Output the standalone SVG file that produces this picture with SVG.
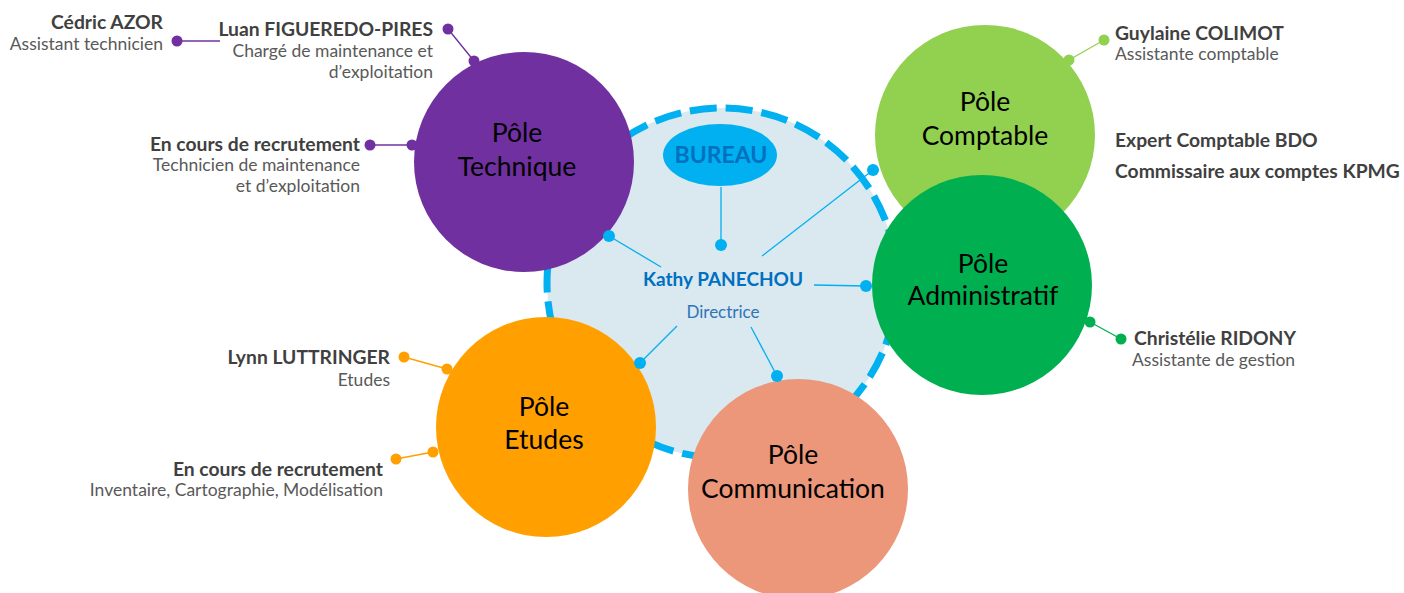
<svg xmlns="http://www.w3.org/2000/svg" width="1404" height="593" viewBox="0 0 1404 593">
<style>
.pole{font-family:Lato,"Open Sans","Liberation Sans",sans-serif;font-size:26.5px;fill:#000;text-anchor:middle}
.nm{font-family:Lato,"Liberation Sans",sans-serif;font-size:19.3px;font-weight:bold;fill:#404040}
.sub{font-family:Lato,"Liberation Sans",sans-serif;font-size:17.5px;fill:#595959}
.r{text-anchor:end}
.c{stroke:#00B0F0;stroke-width:1.3;fill:none}
.cd{fill:#00B0F0}
</style>
<rect width="1404" height="593" fill="#fff"/>
<g id="pole-comptable">
<circle cx="985" cy="135" r="110" fill="#92D050"/>
<text class="pole" x="985" y="111">Pôle</text>
<text class="pole" x="985" y="145">Comptable</text>
</g>
<g id="bureau-zone">
<circle cx="722" cy="283" r="175" fill="#DAE8F0" stroke="#00B0F0" stroke-width="7" stroke-dasharray="27 9"/>
</g>
<g id="pole-technique">
<circle cx="524" cy="162" r="110" fill="#7030A0"/>
<text class="pole" x="517" y="142">Pôle</text>
<text class="pole" x="517" y="176">Technique</text>
</g>
<g id="pole-etudes">
<circle cx="546" cy="427" r="110" fill="#FFA000"/>
<text class="pole" x="544" y="416">Pôle</text>
<text class="pole" x="544" y="449">Etudes</text>
</g>
<g id="pole-communication">
<circle cx="798" cy="489" r="110" fill="#EC967A"/>
<text class="pole" x="793" y="464">Pôle</text>
<text class="pole" x="793" y="498">Communication</text>
</g>
<g id="pole-administratif">
<circle cx="982" cy="285" r="110" fill="#00B050"/>
<text class="pole" x="983" y="273">Pôle</text>
<text class="pole" x="983" y="305">Administratif</text>
</g>
<g id="bureau">
<ellipse cx="720" cy="155" rx="57" ry="31" fill="#00B0F0"/>
<text x="721" y="163" font-family="Lato,'Liberation Sans',sans-serif" font-size="23" font-weight="bold" fill="#0070C0" text-anchor="middle">BUREAU</text>
</g>
<g id="directrice">
<text x="723" y="286" font-family="Lato,'Liberation Sans',sans-serif" font-size="19" font-weight="bold" fill="#0070C0" text-anchor="middle">Kathy PANECHOU</text>
<text x="723" y="318" font-family="Lato,'Liberation Sans',sans-serif" font-size="17" fill="#2E75B6" text-anchor="middle">Directrice</text>
</g>
<g id="connectors">
<line class="c" x1="661" y1="267" x2="609" y2="236"/>
<line class="c" x1="721" y1="187" x2="721" y2="245"/>
<line class="c" x1="762" y1="256" x2="873" y2="170"/>
<line class="c" x1="814" y1="285" x2="866" y2="286"/>
<line class="c" x1="677" y1="326" x2="640" y2="363"/>
<line class="c" x1="751" y1="327" x2="777" y2="376"/>
<circle class="cd" cx="609" cy="236" r="6"/>
<circle class="cd" cx="721" cy="245" r="6"/>
<circle class="cd" cx="873" cy="170" r="6"/>
<circle class="cd" cx="866" cy="286" r="6"/>
<circle class="cd" cx="640" cy="363" r="6"/>
<circle class="cd" cx="777" cy="376" r="6"/>
<g stroke="#7030A0" stroke-width="1.3" fill="#7030A0">
<line x1="448" y1="29" x2="474" y2="61"/>
<line x1="177" y1="41" x2="220" y2="41"/>
<line x1="370" y1="145" x2="412" y2="145"/>
<circle cx="448" cy="29" r="5.5" stroke="none"/>
<circle cx="474" cy="61" r="5.5" stroke="none"/>
<circle cx="177" cy="41" r="5.5" stroke="none"/>
<circle cx="370" cy="145" r="5.5" stroke="none"/>
<circle cx="412" cy="145" r="5.5" stroke="none"/>
</g>
<g stroke="#92D050" stroke-width="1.3" fill="#92D050">
<line x1="1104" y1="40" x2="1069" y2="60"/>
<circle cx="1104" cy="40" r="5.5" stroke="none"/>
<circle cx="1069" cy="60" r="5.5" stroke="none"/>
</g>
<g stroke="#00B050" stroke-width="1.3" fill="#00B050">
<line x1="1121" y1="339" x2="1090" y2="322"/>
<circle cx="1121" cy="339" r="5.5" stroke="none"/>
<circle cx="1090" cy="322" r="5.5" stroke="none"/>
</g>
<g stroke="#FFA000" stroke-width="1.3" fill="#FFA000">
<line x1="404" y1="357" x2="447" y2="369"/>
<line x1="396" y1="459" x2="433" y2="452"/>
<circle cx="404" cy="357" r="5.5" stroke="none"/>
<circle cx="447" cy="369" r="5.5" stroke="none"/>
<circle cx="396" cy="459" r="5.5" stroke="none"/>
<circle cx="433" cy="452" r="5.5" stroke="none"/>
</g>
</g>
<g id="p-cedric">
<text class="nm r" x="163" y="29">Cédric AZOR</text>
<text class="sub r" x="163" y="50">Assistant technicien</text>
</g>
<g id="p-luan">
<text class="nm r" x="433" y="36">Luan FIGUEREDO-PIRES</text>
<text class="sub r" x="433" y="57">Chargé de maintenance et</text>
<text class="sub r" x="433" y="78">d’exploitation</text>
</g>
<g id="p-tech-recrut">
<text class="nm r" x="360" y="151">En cours de recrutement</text>
<text class="sub r" x="360" y="171">Technicien de maintenance</text>
<text class="sub r" x="360" y="192">et d’exploitation</text>
</g>
<g id="p-guylaine">
<text class="nm" x="1115" y="40">Guylaine COLIMOT</text>
<text class="sub" x="1115" y="60">Assistante comptable</text>
</g>
<g id="p-externes">
<text class="nm" x="1115" y="147">Expert Comptable BDO</text>
<text class="nm" x="1115" y="178">Commissaire aux comptes KPMG</text>
</g>
<g id="p-christelie">
<text class="nm" x="1134" y="345">Christélie RIDONY</text>
<text class="sub" x="1132" y="366">Assistante de gestion</text>
</g>
<g id="p-lynn">
<text class="nm r" x="390" y="364">Lynn LUTTRINGER</text>
<text class="sub r" x="390" y="386">Etudes</text>
</g>
<g id="p-etudes-recrut">
<text class="nm r" x="383" y="476">En cours de recrutement</text>
<text class="sub r" x="383" y="496">Inventaire, Cartographie, Modélisation</text>
</g>
</svg>
